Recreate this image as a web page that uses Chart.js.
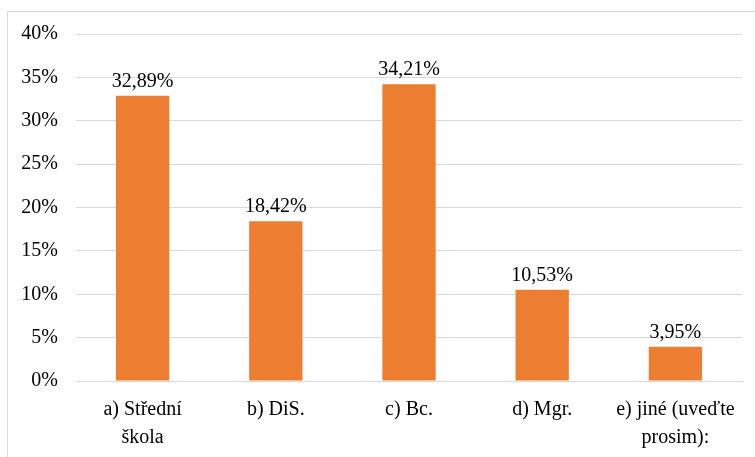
<!DOCTYPE html>
<html>
<head>
<meta charset="utf-8">
<script src="https://cdn.jsdelivr.net/npm/chart.js@4"></script>
<style>
  html, body { margin: 0; padding: 0; background: #fff; overflow: hidden; }
  #frame { position: absolute; left: 7px; top: 11px; width: 800px; height: 500px; border: 1px solid #d9d9d9; box-sizing: border-box; }
  #wrap { position: absolute; left: 0; top: 0; width: 755px; height: 457px; }
  #warm { position: absolute; left: 0; top: 0; visibility: hidden; }
</style>
</head>
<body>
<canvas id="warm" width="300" height="40"></canvas>
<div id="frame"></div>
<div id="wrap"><canvas id="c" width="755" height="457"></canvas></div>
<script>
const categories = [["a) Střední", "škola"], "b) DiS.", "c) Bc.", "d) Mgr.", ["e) jiné (uveďte", "prosim):"]];
const values = [32.89, 18.42, 34.21, 10.53, 3.95];
const valueLabels = ["32,89%", "18,42%", "34,21%", "10,53%", "3,95%"];
const yTicks = [0, 5, 10, 15, 20, 25, 30, 35, 40];

const wctx = document.getElementById('warm').getContext('2d');
wctx.font = '20px "Liberation Serif"';
wctx.fillText('a) Střední škola 32,89% 0123456789', 5, 25);

Chart.defaults.font.family = 'Liberation Serif';
Chart.defaults.font.size = 20;
Chart.defaults.color = '#000';

const dataLabelPlugin = {
  id: 'dataLabels',
  afterDatasetsDraw(chart) {
    const ctx = chart.ctx;
    const meta = chart.getDatasetMeta(0);
    ctx.save();
    ctx.font = '20px "Liberation Serif"';
    ctx.fillStyle = "#000";
    ctx.textAlign = "center";
    ctx.textBaseline = "bottom";
    meta.data.forEach((bar, i) => {
      ctx.fillText(valueLabels[i], bar.x, bar.y - 4);
    });
    ctx.restore();
  }
};

const chart = new Chart(document.getElementById('c'), {
  type: 'bar',
  data: {
    labels: categories,
    datasets: [{
      data: values,
      backgroundColor: '#ED7D31',
      categoryPercentage: 1.0,
      barPercentage: 0.4
    }]
  },
  options: {
    responsive: false,
    animation: false,
    devicePixelRatio: 1,
    layout: { padding: { top: 34, right: 13, left: 0, bottom: 0 } },
    plugins: { legend: { display: false }, tooltip: { enabled: false } },
    scales: {
      x: {
        grid: { display: false, drawTicks: false },
        border: { display: true, color: '#d9d9d9', width: 1 },
        ticks: {
          color: '#000',
          font: { family: 'Liberation Serif', size: 20, lineHeight: 1.4 },
          padding: 15,
          maxRotation: 0,
          autoSkip: false
        },
        afterFit(scale) { scale.height = 76; }
      },
      y: {
        min: 0,
        max: 40,
        afterBuildTicks(scale) { scale.ticks = yTicks.map(v => ({ value: v })); },
        grid: { color: '#d9d9d9', lineWidth: 1, drawTicks: false },
        border: { display: false },
        ticks: {
          color: '#000',
          padding: 18,
          callback: v => v + '%'
        },
        afterFit(scale) { scale.width = 76; }
      }
    }
  },
  plugins: [dataLabelPlugin]
});
if (document.fonts && document.fonts.ready) {
  document.fonts.ready.then(() => chart.update());
}
</script>
</body>
</html>
